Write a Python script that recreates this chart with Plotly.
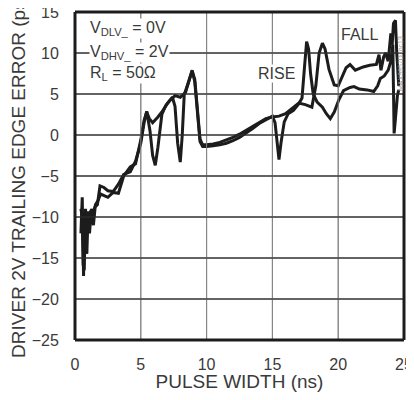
import plotly.graph_objects as go

# Pulse width (ns) and trailing edge error (ps)
rise_x = [0.45, 0.55, 0.65, 0.75, 0.85, 0.95, 1.05, 1.2, 1.35, 1.5, 1.7, 1.9, 2.2, 2.5,
          2.9, 3.3, 3.7, 4.2, 4.6, 5.0, 5.25, 5.45, 5.7, 5.9, 6.1, 6.3, 6.6, 6.9, 7.2,
          7.6, 8.0, 8.4, 8.7, 8.9, 9.1, 9.3, 9.5, 9.7, 10.0, 10.5, 11.0, 11.5, 12.0,
          12.5, 13.0, 13.5, 14.0, 14.5, 15.0, 15.2, 15.35, 15.5, 15.65, 15.9, 16.2,
          16.6, 17.0, 17.25, 17.45, 17.6, 17.75, 17.9, 18.1, 18.4, 18.8, 19.1, 19.4,
          19.7, 20.05, 20.4, 20.9, 21.2, 21.6, 22.2, 22.7, 23.0, 23.2, 23.5, 23.8,
          24.0, 24.15, 24.25, 24.35, 24.5, 24.6]
rise_y = [-12, -7.6, -17.2, -10, -12.5, -9.5, -11.5, -9.2, -10.5, -8.8, -8.5, -6.2, -6.4,
          -6.8, -6.9, -6.0, -4.8, -4.5, -3.2, -1.0, 1.5, 2.9, 0.5, -2.5, -3.7, -1.5, 2.5,
          3.6, 4.2, 4.8, 4.6, 5.2, 6.8, 7.9, 6.5, 3.0, -0.8, -1.4, -1.4, -1.3, -1.2,
          -1.0, -0.7, -0.3, 0.2, 0.8, 1.4, 1.9, 2.3, 1.5, -1.0, -3.0, -1.0, 1.6, 2.6,
          3.0, 3.8, 4.5, 8.5, 11.4, 10.5, 7.5, 5.0, 4.0, 3.4, 2.6, 2.0, 2.8, 4.3, 5.4,
          5.8, 5.9, 5.6, 5.5, 5.3, 6.0, 6.9, 7.2, 7.9, 9.0, 11.0, 0.2, 2.0, 4.8, 5.5]

fall_x = [0.45, 0.55, 0.62, 0.7, 0.8, 0.9, 1.0, 1.1, 1.25, 1.4, 1.55, 1.75, 1.95, 2.2,
          2.5, 2.9, 3.3, 3.7, 4.2, 4.6, 5.0, 5.25, 5.45, 5.65, 5.9, 6.3, 6.6, 7.0, 7.4,
          7.6, 7.8, 8.0, 8.15, 8.3, 8.6, 8.9, 9.1, 9.3, 9.5, 9.7, 10.0, 10.5, 11.0,
          11.5, 12.0, 12.5, 13.0, 13.5, 14.0, 14.5, 15.0, 15.5, 16.0, 16.5, 17.0, 17.5,
          18.0, 18.3, 18.55, 18.8, 19.0, 19.3, 19.7, 20.0, 20.3, 20.6, 20.9, 21.3, 21.9,
          22.4, 22.9, 23.1, 23.25, 23.45, 23.6, 23.8, 24.0, 24.1, 24.2, 24.35, 24.45,
          24.55, 24.6]
fall_y = [-9, -10, -15.8, -16.5, -9.0, -14.5, -9.3, -12.0, -9.0, -11.0, -8.5, -8.0, -7.2,
          -7.4, -7.6, -7.0, -7.1, -5.0, -3.9, -3.5, -0.6, 1.8, 2.8, 2.0, 1.5, 2.2, 2.8,
          3.8, 4.6, 3.5, -1.0, -3.3, 0.0, 4.9, 6.5, 7.8, 6.8, 3.5, -0.5, -1.2, -1.2,
          -1.1, -0.9, -0.6, -0.3, 0.1, 0.6, 1.1, 1.6, 2.0, 2.2, 2.3, 2.6, 3.3, 3.9, 3.7,
          3.4, 6.0, 10.0, 11.2, 10.5, 8.0, 6.1, 6.0, 7.0, 8.2, 8.6, 7.9, 8.3, 8.5, 8.6,
          9.8, 7.9, 9.5, 10.0, 9.0, 12.4, 11.0, 13.6, 14.0, 10.0, 6.5, 6.0]

x_ticks = [0, 5, 10, 15, 20, 25]
y_ticks = [-25, -20, -15, -10, -5, 0, 5, 10, 15]

font_family = "Liberation Sans Narrow, Arial Narrow, Liberation Sans, sans-serif"
ink = "#1c1c1c"
text_col = "#3a3a3a"
x_lo, x_hi = x_ticks[0], x_ticks[-1]
y_lo, y_hi = y_ticks[0], y_ticks[-1]

fig = go.Figure()

# grid lines as line traces, built from the tick lists
gx, gy = [], []
for xv in x_ticks[1:-1]:
    gx += [xv, xv, None]
    gy += [y_lo, y_hi, None]
fig.add_trace(go.Scatter(x=gx, y=gy, mode='lines', line=dict(color='#858585', width=1)))
hx, hy = [], []
for yv in y_ticks[1:-1]:
    hx += [x_lo, x_hi, None]
    hy += [yv, yv, None]
fig.add_trace(go.Scatter(x=hx, y=hy, mode='lines', line=dict(color='#303030', width=1)))

fig.add_trace(go.Scatter(x=rise_x, y=rise_y, mode='lines', name='RISE',
                         line=dict(color=ink, width=3)))
fig.add_trace(go.Scatter(x=fall_x, y=fall_y, mode='lines', name='FALL',
                         line=dict(color=ink, width=3)))

# same grid again as line shapes, so it shows whichever way is drawn
for xv in x_ticks[1:-1]:
    fig.add_shape(type='line', xref='x', yref='paper', x0=xv, x1=xv, y0=0, y1=1,
                  line=dict(color='#858585', width=1), layer='above')
for yv in y_ticks[1:-1]:
    fig.add_shape(type='line', xref='paper', yref='y', x0=0, x1=1, y0=yv, y1=yv,
                  line=dict(color='#303030', width=1), layer='above')

# frame: four edge lines
for x0, x1, y0, y1 in [(0, 1, 0, 0), (0, 1, 1, 1), (0, 0, 0, 1), (1, 1, 0, 1)]:
    fig.add_shape(type='line', xref='paper', yref='paper', x0=x0, x1=x1, y0=y0, y1=y1,
                  line=dict(color=ink, width=3), layer='above')

# Condition labels (white box hides grid lines behind them)
labels = [("V<sub>DLV_</sub> = 0V", 13.0),
          ("V<sub>DHV_</sub> = 2V", 10.1),
          ("R<sub>L</sub> = 50Ω", 7.5)]
for text, yy in labels:
    fig.add_annotation(x=1.1, y=yy, xref='x', yref='y', text=text, showarrow=False,
                       xanchor='left', yanchor='middle', bgcolor='white', borderpad=0,
                       font=dict(size=16, color=text_col, family=font_family))

fig.add_annotation(x=15.3, y=7.5, text="RISE", showarrow=False, bgcolor='white',
                   borderpad=0, font=dict(size=16, color=text_col, family=font_family))
fig.add_annotation(x=21.6, y=12.2, text="FALL", showarrow=False, bgcolor='white',
                   borderpad=0, font=dict(size=16, color=text_col, family=font_family))
# page body has an 8px margin, so the figure is placed 8px in from the page corner
fig.add_annotation(x=(398 - 67) / 329, y=(332 - 26) / 328, xref='paper', yref='paper',
                   text="MAX9957D toc13", showarrow=False, textangle=-90,
                   font=dict(size=7, color='#999', family=font_family))

fig.update_layout(
    width=406, height=384,
    margin=dict(l=67, r=10, t=4, b=52, autoexpand=False),
    paper_bgcolor='white', plot_bgcolor='white',
    showlegend=False,
    font=dict(family=font_family, size=16, color=text_col),
    xaxis=dict(range=[x_lo, x_hi], tickvals=x_ticks, showgrid=False, zeroline=False,
               showline=False, ticks='outside', ticklen=10, tickcolor='rgba(0,0,0,0)',
               automargin=False, ticklabeloverflow='allow',
               title=dict(text="PULSE WIDTH (ns)", standoff=4)),
    yaxis=dict(range=[y_lo, y_hi], tickvals=y_ticks, showgrid=False, zeroline=False,
               showline=False, ticks='outside', ticklen=12, tickcolor='rgba(0,0,0,0)',
               automargin=False, ticklabeloverflow='allow',
               title=dict(text="DRIVER 2V TRAILING EDGE ERROR (ps)", standoff=12)),
)

fig.write_html("out.html")
